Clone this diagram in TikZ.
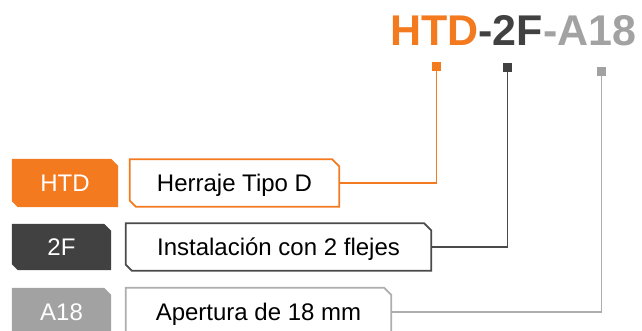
\documentclass[tikz,border=0pt]{standalone}
\usepackage{fontspec}
\setmainfont{Liberation Sans}
\definecolor{cOr}{HTML}{F47A20}
\definecolor{cDk}{HTML}{414141}
\definecolor{cGy}{HTML}{A2A2A2}
\definecolor{cDkL}{HTML}{4A4A4A}
\definecolor{cGyL}{HTML}{ADADAD}
\begin{document}
\begin{tikzpicture}[x=1pt,y=-1pt,
  boxnode/.style={inner sep=0pt, text height=17pt, text depth=0pt, font=\fontsize{24}{28}\selectfont},
  tagtext/.style={boxnode, text=white},
  desctext/.style={boxnode, text=black},
  sq/.style={minimum size=9pt, inner sep=0pt},
  conn/.style={line width=1.8pt},
  outline/.style={line width=1.8pt, fill=white}]
\useasboundingbox (0,0) rectangle (642,331);

% title
\node[anchor=base east, inner sep=0pt, font=\fontsize{43}{50}\selectfont\bfseries] (title) at (636.5,45.5)
  {\textcolor{cOr}{HTD}\textcolor{cDk}{-2F}\textcolor{cGy}{-A18}};

% squares
\node[sq, fill=cOr] (s1) at (436.5,66.5) {};
\node[sq, fill=cDk] (s2) at (507.5,68) {};
\node[sq, fill=cGy] (s3) at (601.5,72) {};

% box geometry nodes
\node[tagtext, minimum width=106pt, minimum height=48pt] (t1) at (65,183) {};
\node[desctext, minimum width=209pt, minimum height=47pt] (d1) at (234.5,183) {};
\node[tagtext, minimum width=99pt, minimum height=46pt] (t2) at (61.5,247) {};
\node[desctext, minimum width=305pt, minimum height=47pt] (d2) at (278.5,247) {};
\node[tagtext, minimum width=99pt, minimum height=54pt] (t3) at (61.5,315) {};
\node[desctext, minimum width=265pt, minimum height=54pt] (d3) at (258.5,315) {};
\coordinate (d3c) at (391,312);

% connectors
\draw[conn, cOr] (s1.center) |- (d1.east);
\draw[conn, cDkL] (s2.center) |- (d2.east);
\draw[conn, cGyL] (s3.center) |- (d3c);
\node[sq, fill=cOr] at (s1) {};
\node[sq, fill=cDk] at (s2) {};
\node[sq, fill=cGy] at (s3) {};

% tag boxes
\fill[cOr] (t1.north west) -- ([xshift=-7pt]t1.north east) -- ([yshift=-7pt]t1.north east) -- (t1.south east) -- ([xshift=6pt]t1.south west) -- ([yshift=6pt]t1.south west) -- cycle;
\fill[cDk] (t2.north west) -- ([xshift=-7pt]t2.north east) -- ([yshift=-7pt]t2.north east) -- (t2.south east) -- ([xshift=6pt]t2.south west) -- ([yshift=6pt]t2.south west) -- cycle;
\fill[cGy] (t3.north west) -- ([xshift=-7pt]t3.north east) -- ([yshift=-7pt]t3.north east) -- (t3.south east) -- ([xshift=6pt]t3.south west) -- ([yshift=6pt]t3.south west) -- cycle;

% description boxes
\draw[outline, draw=cOr] (d1.north west) -- ([xshift=-7pt]d1.north east) -- ([yshift=-7pt]d1.north east) -- (d1.south east) -- ([xshift=6pt]d1.south west) -- ([yshift=6pt]d1.south west) -- cycle;
\draw[outline, draw=cDkL] (d2.north west) -- ([xshift=-7pt]d2.north east) -- ([yshift=-7pt]d2.north east) -- (d2.south east) -- ([xshift=6pt]d2.south west) -- ([yshift=6pt]d2.south west) -- cycle;
\draw[outline, draw=cGyL] (d3.north west) -- ([xshift=-7pt]d3.north east) -- ([yshift=-7pt]d3.north east) -- (d3.south east) -- ([xshift=6pt]d3.south west) -- ([yshift=6pt]d3.south west) -- cycle;

% labels
\node[tagtext] at (t1) {HTD};
\node[tagtext] at (t2) {2F};
\node[tagtext] at ([yshift=3.5pt]t3.center) {A18};
\node[desctext] at (d1) {Herraje Tipo D};
\node[desctext] at (d2) {Instalación con 2 flejes};
\node[desctext] at ([yshift=3.5pt]d3.center) {Apertura de 18 mm};
\end{tikzpicture}
\end{document}
